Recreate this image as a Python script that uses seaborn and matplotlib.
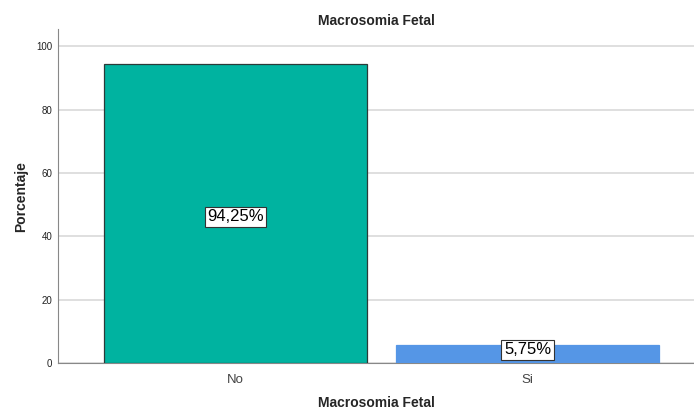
import matplotlib
matplotlib.use("Agg")
import matplotlib.pyplot as plt
import seaborn as sns
import pandas as pd

# Data
categories = ["No", "Si"]
percentages = [94.25, 5.75]
labels = ["94,25%", "5,75%"]
colors = ["#00B3A0", "#5596E6"]

df = pd.DataFrame({"Macrosomia Fetal": categories, "Porcentaje": percentages})

sns.set_style("white")
plt.rcParams["font.family"] = ["Liberation Sans", "DejaVu Sans"]

fig = plt.figure(figsize=(6.94, 4.11), dpi=100)
ax = fig.add_axes([0.0836, 0.1168, 0.9164, 0.8122])

sns.barplot(
    data=df, x="Macrosomia Fetal", y="Porcentaje",
    hue="Macrosomia Fetal", palette=colors, legend=False,
    saturation=1, width=0.9, ax=ax, zorder=3
)
edge_colors = ["#2b3a38", "#5596E6"]
for patch, ec in zip(ax.patches, edge_colors):
    patch.set_edgecolor(ec)
    patch.set_linewidth(0.9)

# Labels inside bars
for i, (p, lab) in enumerate(zip(percentages, labels)):
    ax.text(i, p / 2 - 1 if p > 20 else p - 1.5, lab, ha="center", va="center",
            fontsize=12, color="black", zorder=5,
            bbox=dict(boxstyle="square,pad=0.15", fc="white", ec="#333333", lw=0.8))

ax.set_xlim(-0.608, 1.57)
ax.set_ylim(0, 105.4)
ax.set_yticks([0, 20, 40, 60, 80, 100])
ax.yaxis.grid(True, color="#d9d9d9", linewidth=1.2, zorder=0)
ax.set_axisbelow(True)

for s in ["top", "right"]:
    ax.spines[s].set_visible(False)
ax.spines["left"].set_color("#888888")
ax.spines["bottom"].set_color("#888888")
ax.tick_params(axis="y", labelsize=7, colors="#222222", length=0, pad=4)
ax.tick_params(axis="x", labelsize=9.5, colors="#444444", length=0, pad=8)

ax.set_title("Macrosomia Fetal", fontsize=10, fontweight="bold", pad=3)
ax.set_xlabel("Macrosomia Fetal", fontsize=10, fontweight="bold", labelpad=7)
ax.set_ylabel("Porcentaje", fontsize=10, fontweight="bold", labelpad=6)

fig.savefig("out.png", dpi=100)
